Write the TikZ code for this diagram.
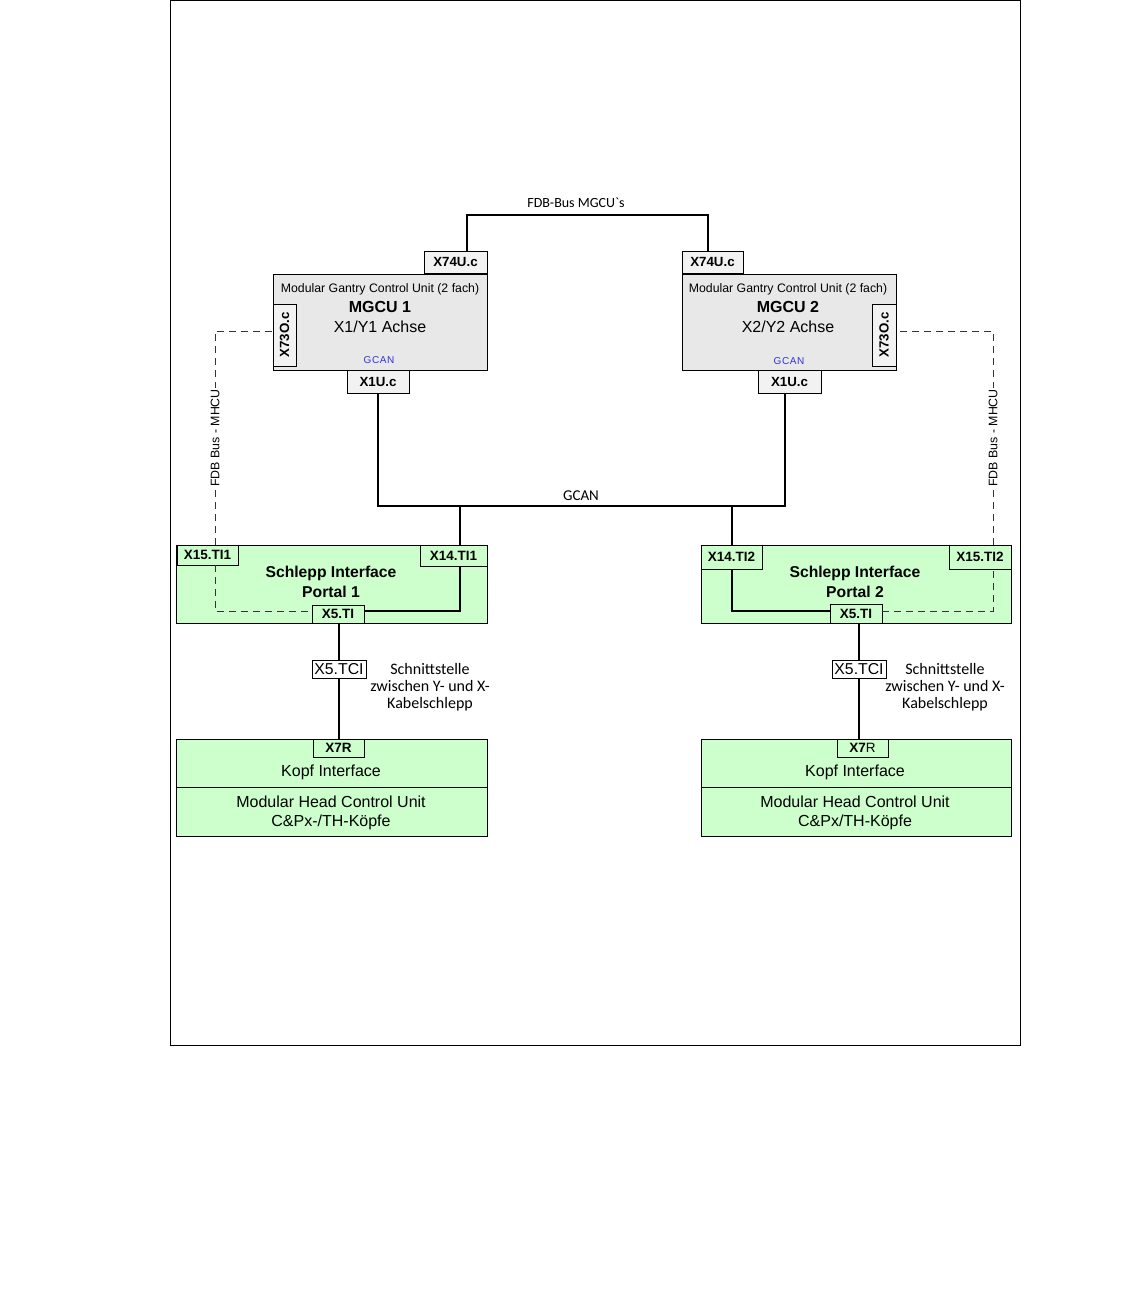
\documentclass[tikz,border=0pt]{standalone}
\usepackage{fontspec}
\setmainfont{Liberation Sans}
\newfontfamily\calfont{Carlito}[Ligatures=TeXOff]
\definecolor{boxgray}{RGB}{232,232,232}
\definecolor{tabgray}{RGB}{242,242,242}
\definecolor{sgreen}{RGB}{204,255,204}
\definecolor{gcanblue}{RGB}{50,50,220}
\newcommand{\fs}[1]{\fontsize{#1}{#1}\selectfont}
\begin{document}
\begin{tikzpicture}[x=1pt,y=-1pt,
  every node/.style={inner sep=0pt,outer sep=0pt},
  mbox/.style={draw,line width=0.9pt,fill=boxgray},
  gbox/.style={draw,line width=0.9pt,fill=sgreen},
  mtab/.style={draw,line width=0.9pt,fill=tabgray,font=\fs{13.3}\bfseries},
  gtab/.style={draw,line width=0.9pt,fill=sgreen,font=\fs{13.5}\bfseries},
  wtab/.style={draw,line width=0.9pt,fill=white,font=\fs{15.8}},
  bus/.style={line width=2.2pt},
  fdb/.style={line width=0.9pt,draw=black!80,dash pattern=on 7pt off 5pt},
  ttl/.style={font=\fs{16}},
  sub/.style={font=\fs{12.3}},
  cal/.style={font=\calfont\fs{16},align=center},
  vlab/.style={font=\fs{12.4},fill=white,rotate=90,inner sep=1pt}]
\useasboundingbox (0,0) rectangle (1134,1290);
\node[draw,line width=1pt,minimum width=850pt,minimum height=1044.5pt] (frame) at (595,522.75) {};

% MGCU 1
\node[mbox,minimum width=214pt,minimum height=96pt] (mgcu1) at (380,322) {};
\node[sub] (m1a) at (380,289) {Modular Gantry Control Unit (2 fach)};
\node[ttl,font=\fs{16}\bfseries] (m1b) at (380,307) {MGCU 1};
\node[ttl] (m1c) at (380,327) {X1/Y1 Achse};
\node[font=\fs{10}\addfontfeature{LetterSpace=6},text=gcanblue] (m1d) at (379,360) {GCAN};
\node[mtab,minimum width=63pt,minimum height=22pt] (t741) at (455.5,262) {X74U.c};
\node[mtab,minimum width=23pt,minimum height=62pt] (x73a) at (284.5,335) {};
\node[font=\fs{13.3}\bfseries,rotate=90] (x73at) at (x73a) {X73O.c};
\node[mtab,minimum width=62pt,minimum height=23pt] (x1u1) at (378,381.5) {X1U.c};

% MGCU 2
\node[mbox,minimum width=214pt,minimum height=96pt] (mgcu2) at (789,322) {};
\node[sub] (m2a) at (788,289) {Modular Gantry Control Unit (2 fach)};
\node[ttl,font=\fs{16}\bfseries] (m2b) at (788,307) {MGCU 2};
\node[ttl] (m2c) at (788,327) {X2/Y2 Achse};
\node[font=\fs{10}\addfontfeature{LetterSpace=6},text=gcanblue] (m2d) at (789,361) {GCAN};
\node[mtab,minimum width=61pt,minimum height=22pt] (t742) at (712.5,262) {X74U.c};
\node[mtab,minimum width=24pt,minimum height=62pt] (x73b) at (884,335) {};
\node[font=\fs{13.3}\bfseries,rotate=90] (x73bt) at (x73b) {X73O.c};
\node[mtab,minimum width=63pt,minimum height=23pt] (x1u2) at (789.5,381.5) {X1U.c};

% FDB-Bus MGCUs
\coordinate (c1) at (467,0);
\coordinate (c2) at (708,0);
\coordinate (fdbtop) at (587,215);
\draw[bus] (t741.north -| c1) |- (fdbtop) -| (t742.north -| c2);
\node[font=\calfont\fs{14}] (fdblab) at (576,203) {FDB-Bus MGCU`s};

% Schlepp Interface 1
\node[gbox,minimum width=311pt,minimum height=78pt] (s1) at (331.5,584) {};
\node[font=\fs{15.7}\bfseries] (s1a) at (331,573) {Schlepp Interface};
\node[font=\fs{15.7}\bfseries] (s1b) at (331,592) {Portal 1};
\node[gtab,minimum width=61pt,minimum height=20pt] (x15a) at (207.5,555) {X15.TI1};
\node[gtab,minimum width=67pt,minimum height=21pt] (x14a) at (453.5,555.5) {X14.TI1};
\node[gtab,minimum width=52pt,minimum height=18pt] (x5a) at (338,614) {X5.TI};

% Schlepp Interface 2
\node[gbox,minimum width=310pt,minimum height=78pt] (s2) at (856,584) {};
\node[font=\fs{15.7}\bfseries] (s2a) at (855,573) {Schlepp Interface};
\node[font=\fs{15.7}\bfseries] (s2b) at (855,592) {Portal 2};
\node[gtab,minimum width=61pt,minimum height=24pt] (x14b) at (731.5,557) {X14.TI2};
\node[gtab,minimum width=62pt,minimum height=24pt] (x15b) at (980,557) {X15.TI2};
\node[gtab,minimum width=52pt,minimum height=19pt] (x5b) at (856,613.5) {X5.TI};

% GCAN bus
\coordinate (gmid) at (581,506);
\coordinate (g1) at (460,506);
\coordinate (g2) at (732,506);
\coordinate (g3) at (785,0);
\draw[bus] (x1u1.south) |- (gmid) -| (x1u2.south -| g3);
\draw[bus] (g1) -- (x14a.north -| g1);
\draw[bus] (g2) -- (x14b.north -| g2);
\node[font=\calfont\fs{15}] (gcanlab) at (581,496) {GCAN};

% internal links
\coordinate (h1) at (0,611);
\coordinate (u1) at (0,331);
\draw[bus] (x14a.south -| g1) |- (x5a.east |- h1);
\draw[bus] (x14b.south -| g2) |- (x5b.west |- h1);
\coordinate (d1) at (215,0);
\coordinate (d2) at (993,0);
\draw[fdb] (x15a.south -| d1) |- (x5a.west |- h1);
\draw[fdb] (x5b.east |- h1) -| (x15b.south -| d2);
\draw[fdb] (x15a.north -| d1) |- (x73a.west |- u1);
\draw[fdb] (x15b.north -| d2) |- (x73b.east |- u1);
\node[vlab] (fl1) at (215,438) {FDB Bus - MHCU};
\node[vlab] (fl2) at (993,438) {FDB Bus - MHCU};

% Kopf 1
\node[gbox,minimum width=311pt,minimum height=48pt] (k1a) at (331.5,763) {};
\node[gbox,minimum width=311pt,minimum height=49pt] (k1b) at (331.5,811.5) {};
\node[gtab,minimum width=51pt,minimum height=18pt] (x7ra) at (338.5,748) {X7R};
\node[ttl] (k1t) at (331,772) {Kopf Interface};
\node[ttl] (k1u) at (331,802) {Modular Head Control Unit};
\node[ttl] (k1v) at (331,822) {C\&Px-/TH-Köpfe};
\node[wtab,minimum width=54pt,minimum height=18pt] (tcia) at (339,669) {X5.TCI};
\draw[bus] (x5a.south -| tcia.north) -- (tcia.north);
\draw[bus] (tcia.south) -- (x7ra.north -| tcia.south);
\node[cal] (sa) at (430,687) {Schnittstelle\\[1pt]zwischen Y- und X-\\[1pt]Kabelschlepp};

% Kopf 2
\node[gbox,minimum width=310pt,minimum height=48pt] (k2a) at (856,763) {};
\node[gbox,minimum width=310pt,minimum height=49pt] (k2b) at (856,811.5) {};
\node[gtab,minimum width=51pt,minimum height=18pt] (x7rb) at (862.5,748) {X7\mdseries R};
\node[ttl] (k2t) at (855,772) {Kopf Interface};
\node[ttl] (k2u) at (855,802) {Modular Head Control Unit};
\node[ttl] (k2v) at (855,822) {C\&Px/TH-Köpfe};
\node[wtab,minimum width=54pt,minimum height=18pt] (tcib) at (859,669) {X5.TCI};
\draw[bus] (x5b.south -| tcib.north) -- (tcib.north);
\draw[bus] (tcib.south) -- (x7rb.north -| tcib.south);
\node[cal] (sb) at (945,687) {Schnittstelle\\[1pt]zwischen Y- und X-\\[1pt]Kabelschlepp};
\end{tikzpicture}
\end{document}
